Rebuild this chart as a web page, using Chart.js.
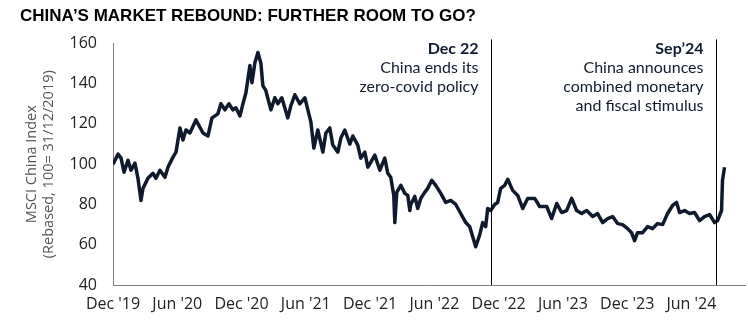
<!DOCTYPE html>
<html>
<head>
<meta charset="utf-8">
<script src="https://cdn.jsdelivr.net/npm/chart.js@4.4.1/dist/chart.umd.min.js"></script>
<style>
html,body{margin:0;padding:0;background:#fff;}
#wrap{position:relative;width:748px;height:327px;}
</style>
</head>
<body>
<div id="wrap"><canvas id="c" width="748" height="327"></canvas></div>
<script>
// Months elapsed since 31 Dec 2019
const monthsSinceStart = [0.00,0.47,0.75,1.03,1.40,1.68,2.05,2.33,2.61,2.80,3.26,3.73,4.01,4.38,4.85,5.13,5.60,5.88,6.25,6.53,6.81,7.18,7.74,8.40,8.86,9.24,9.79,10.07,10.45,10.82,11.19,11.47,11.85,12.13,12.41,12.78,12.97,13.25,13.53,13.81,13.99,14.27,14.74,15.11,15.39,15.76,16.32,16.60,16.98,17.44,17.91,18.19,18.47,18.75,19.12,19.59,19.87,20.24,20.52,20.99,21.27,21.64,22.11,22.39,22.85,23.13,23.51,23.79,24.07,24.44,24.91,25.37,25.65,25.93,26.21,26.31,26.49,26.87,27.24,27.52,27.71,27.80,28.17,28.45,28.73,29.10,29.38,29.76,30.13,30.60,31.06,31.53,32.00,32.46,32.93,33.30,33.58,33.86,34.24,34.51,34.79,34.98,35.26,35.63,35.91,36.19,36.57,36.85,37.31,37.78,38.25,38.71,39.37,39.83,40.49,40.95,41.42,41.88,42.35,42.82,43.28,43.75,44.22,44.78,45.24,45.71,46.18,46.64,47.11,47.57,48.04,48.41,48.69,48.97,49.44,49.91,50.37,50.84,51.31,51.77,52.24,52.61,52.89,53.36,53.82,54.29,54.76,55.22,55.69,56.16,56.44,56.81,56.90,57.09];
// MSCI China Index, rebased 100 = 31/12/2019
const msciChina = [100,105,103,96,102,97,100.5,93,82,88,93,95.5,93,97,93.5,98.5,103.5,106,118,112,117,115.5,122,115.5,114,123,125,130,127,130,127,128,124,130,135.5,149,140.5,150.5,155.5,150,139,136.5,127,133,130,133,123,129,134.5,130,133,127,121,108,117,106,115.5,118,109.5,106,113,117,110,114,109.5,103,106,98.5,101,104.5,97,103,95.5,93.5,84.5,71,86,89.5,85.5,84.5,77,80,84,78,83,86,88,92,89.5,85.5,81,82,80,75.5,71,69,64,59,65,71,69,78,77,80,81,88,89.5,92.5,87,84.5,78,83,83,79,79,73,80.5,76,77,83,77,75.5,77,74,75.5,71,73,74,70.5,70,68,66,62,66,66,69,68,70.5,70,75.5,79.5,81,76,77,75.5,76,72,74,75,71,72,77,92,98.5];

const xTickMonths = [0,6,12,18,24,30,36,42,48,54];
const xTickLabels = ["Dec '19","Jun '20","Dec '20","Jun '21","Dec '21","Jun '22","Dec '22","Jun '23","Dec '23","Jun '24"];
const yTickValues = [40,60,80,100,120,140,160];

const eventMonths = [35.26, 56.25];
const eventTitles = ["Dec 22", "Sep\u201924"];
const eventNotes = [["China ends its","zero-covid policy"],["China announces","combined monetary","and fiscal stimulus"]];

const chartTitle = "CHINA\u2019S MARKET REBOUND: FURTHER ROOM TO GO?";
const yAxisTitle = ["MSCI China Index","(Rebased, 100= 31/12/2019)"];

const points = monthsSinceStart.map((m,i)=>({x:m,y:msciChina[i]}));

const tickFont = {family:"'Liberation Sans Narrow','Open Sans',sans-serif", size:16};

const eventPlugin = {
  id:'events',
  afterDatasetsDraw(chart){
    const {ctx, chartArea, scales} = chart;
    ctx.save();
    eventMonths.forEach((m,i)=>{
      const x = Math.round(scales.x.getPixelForValue(m))+0.5;
      ctx.strokeStyle = '#000';
      ctx.lineWidth = 1;
      ctx.beginPath();
      ctx.moveTo(x, chartArea.top-4);
      ctx.lineTo(x, chartArea.bottom);
      ctx.stroke();
      ctx.textAlign = 'right';
      ctx.textBaseline = 'middle';
      ctx.fillStyle = '#101c30';
      const tx = x - 13;
      ctx.font = "bold 16px 'Lato', sans-serif";
      ctx.fillText(eventTitles[i], tx, chartArea.top + 5);
      ctx.font = "16px 'Lato', sans-serif";
      eventNotes[i].forEach((t,j)=>ctx.fillText(t, tx, chartArea.top + 24 + j*19));
    });
    ctx.restore();
  }
};

new Chart(document.getElementById('c'), {
  type:'line',
  data:{datasets:[{data:points, borderColor:'#0f1a2c', borderWidth:3.5, pointRadius:0, tension:0, borderJoinStyle:'round', fill:false}]},
  options:{
    responsive:false, animation:false,
    layout:{padding:{left:20,right:3,top:0,bottom:4}},
    plugins:{
      legend:{display:false}, tooltip:{enabled:false},
      title:{display:true, text:chartTitle, align:'start', color:'#000',
        font:{family:"'Liberation Sans',Arial,sans-serif", size:17, weight:'bold'},
        padding:{top:6,bottom:17}}
    },
    scales:{
      x:{type:'linear', min:0, max:59,
        grid:{display:false, drawTicks:false},
        border:{display:true,color:'#7f7f7f',width:1},
        afterBuildTicks(s){ s.ticks = xTickMonths.map(v=>({value:v})); },
        afterFit(s){ s.height = 38; },
        ticks:{autoSkip:false, maxRotation:0, padding:10, color:'#222', font:tickFont,
          callback(v){ const i = xTickMonths.indexOf(v); return i>=0 ? xTickLabels[i] : ''; }}
      },
      y:{min:40, max:160,
        grid:{display:false, drawTicks:false},
        border:{display:true,color:'#7f7f7f',width:1},
        afterBuildTicks(s){ s.ticks = yTickValues.map(v=>({value:v})); },
        afterFit(s){ s.width = 93; },
        ticks:{padding:16, color:'#222', font:tickFont},
        title:{display:true, text:yAxisTitle, color:'#555', font:{family:"'Open Sans',sans-serif", size:14.5}, padding:{top:3,bottom:0}}
      }
    }
  },
  plugins:[eventPlugin]
});
</script>
</body>
</html>
